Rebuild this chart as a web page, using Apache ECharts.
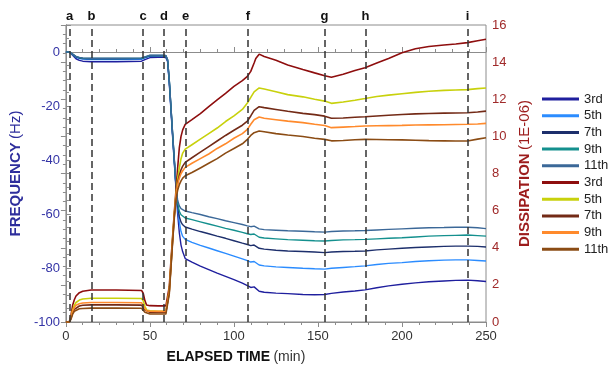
<!DOCTYPE html>
<html>
<head>
<meta charset="utf-8">
<script src="https://cdn.jsdelivr.net/npm/echarts@6/dist/echarts.min.js"></script>
<style>
  html, body { margin: 0; padding: 0; background: #fff; }
  #chart { width: 611px; height: 369px; }
</style>
</head>
<body>
<div id="chart"></div>
<script>
// QCM-D run: frequency shift and dissipation per overtone vs elapsed time
const timeMin = [0, 2, 3, 4, 5, 6, 8, 10, 15, 30,
  45, 46, 47, 48, 50, 55, 58, 59.5, 60.5, 61.5,
  62.5, 63.5, 64.5, 65.5, 66.5, 67.5, 68.5, 69.5, 71, 75,
  80, 85, 90, 95, 100, 105, 108, 110, 112, 113,
  115, 118, 125, 132, 141, 148, 154, 158, 165, 172,
  178, 185, 192, 200, 208, 216, 225, 232, 239, 245,
  250];

// Frequency shift (Hz)
const freq3rd = [0, 0, -0.4, -1.2, -1.9, -2.5, -3.1, -3.4, -3.6, -3.6,
  -3.4, -3.3, -2.8, -2.3, -2.1, -2.0, -2.0, -2.1, -3.5, -11.5,
  -21.5, -31.5, -41, -50.5, -60, -67, -71.5, -74, -76.5, -77.8,
  -79.3, -80.6, -81.9, -83.1, -84.3, -85.6, -86.5, -87.2, -87.0, -87.6,
  -88.6, -89.0, -89.3, -89.5, -89.8, -89.9, -89.8, -89.4, -88.9, -88.5,
  -88.1, -87.3, -86.6, -86.0, -85.5, -85.1, -84.8, -84.6, -84.5, -84.7,
  -85.0];
const freq5th = [0, 0, -0.3, -1.0, -1.5, -1.9, -2.4, -2.6, -2.8, -2.8,
  -2.7, -2.6, -2.2, -1.8, -1.6, -1.5, -1.5, -1.6, -3.2, -11,
  -21, -31, -40.5, -50, -58, -63, -66.5, -68.3, -69.4, -70.5,
  -71.6, -72.6, -73.6, -74.6, -75.6, -76.6, -77.3, -77.8, -77.6, -78.2,
  -78.9, -79.2, -79.6, -79.8, -80.1, -80.3, -80.4, -80.1, -79.8, -79.5,
  -79.2, -78.7, -78.3, -78.0, -77.6, -77.3, -77.1, -77.0, -77.0, -77.2,
  -77.4];
const freq7th = [0, 0, -0.3, -0.9, -1.4, -1.8, -2.2, -2.4, -2.5, -2.5,
  -2.4, -2.3, -2.0, -1.6, -1.4, -1.4, -1.4, -1.5, -3.0, -10.5,
  -20.5, -30.5, -40, -49.5, -57, -61, -63, -64, -64.8, -65.6,
  -66.5, -67.3, -68.2, -69.0, -69.9, -70.8, -71.3, -71.7, -71.5, -72.0,
  -72.7, -73.0, -73.4, -73.7, -73.9, -74.1, -74.3, -74.1, -73.9, -73.8,
  -73.7, -73.3, -73.0, -72.7, -72.4, -72.2, -72.0, -71.9, -71.9, -72.0,
  -72.2];
const freq9th = [0, 0, -0.3, -0.8, -1.3, -1.7, -2.1, -2.3, -2.4, -2.4,
  -2.3, -2.2, -1.9, -1.5, -1.3, -1.3, -1.3, -1.4, -2.9, -10.3,
  -20.3, -30.3, -39.8, -49.3, -56, -59, -60.3, -61, -61.5, -62.1,
  -62.9, -63.7, -64.5, -65.3, -66.0, -66.8, -67.3, -67.6, -67.4, -67.9,
  -68.6, -68.9, -69.2, -69.5, -69.7, -69.9, -70.0, -69.8, -69.6, -69.5,
  -69.4, -69.2, -69.0, -68.8, -68.5, -68.2, -68.0, -67.9, -67.8, -68.0,
  -68.2];
const freq11th = [0, 0, -0.3, -0.8, -1.2, -1.6, -2.0, -2.2, -2.3, -2.3,
  -2.2, -2.1, -1.8, -1.4, -1.2, -1.2, -1.2, -1.3, -2.8, -10.1,
  -20.1, -30.1, -39.6, -49, -55, -57, -58, -58.5, -58.9, -59.5,
  -60.2, -61.0, -61.7, -62.5, -63.2, -63.9, -64.4, -64.7, -64.5, -64.9,
  -65.5, -65.8, -66.0, -66.2, -66.4, -66.6, -66.7, -66.5, -66.3, -66.2,
  -66.1, -65.9, -65.7, -65.5, -65.3, -65.1, -65.0, -64.9, -64.9, -65.1,
  -65.4];

// Dissipation (1E-06)
const diss3rd = [0, 0, 0.35, 0.9, 1.2, 1.4, 1.58, 1.66, 1.72, 1.72,
  1.70, 1.55, 1.15, 0.92, 0.88, 0.87, 0.87, 0.87, 0.95, 1.9,
  3.3, 4.6, 5.9, 7.1, 8.3, 9.4, 10.0, 10.35, 10.65, 10.9,
  11.23, 11.6, 11.96, 12.32, 12.69, 13.0, 13.23, 13.5, 13.95, 14.2,
  14.43, 14.3, 14.1, 13.85, 13.6, 13.42, 13.27, 13.18, 13.35, 13.55,
  13.7, 13.95, 14.2, 14.5, 14.72, 14.84, 14.92, 14.98, 15.05, 15.15,
  15.23];
const diss5th = [0, 0, 0.25, 0.65, 0.9, 1.05, 1.18, 1.24, 1.28, 1.28,
  1.27, 1.15, 0.85, 0.65, 0.6, 0.58, 0.57, 0.57, 0.65, 1.7,
  3.1, 4.5, 5.8, 6.9, 7.7, 8.3, 8.8, 9.1, 9.31, 9.55,
  9.85, 10.15, 10.45, 10.8, 11.1, 11.45, 11.8, 12.1, 12.4, 12.5,
  12.61, 12.55, 12.4, 12.25, 12.13, 12.0, 11.9, 11.78, 11.85, 11.95,
  12.04, 12.15, 12.22, 12.3, 12.37, 12.43, 12.48, 12.5, 12.52, 12.57,
  12.61];
const diss7th = [0, 0, 0.2, 0.5, 0.68, 0.78, 0.86, 0.9, 0.92, 0.92,
  0.91, 0.82, 0.65, 0.55, 0.52, 0.52, 0.52, 0.52, 0.6, 1.6,
  3.0, 4.4, 5.7, 6.8, 7.5, 7.9, 8.2, 8.4, 8.6, 8.85,
  9.15, 9.45, 9.75, 10.05, 10.33, 10.6, 10.82, 11.1, 11.4, 11.5,
  11.6, 11.55, 11.45, 11.35, 11.24, 11.17, 11.09, 10.98, 10.99, 11.03,
  11.06, 11.1, 11.14, 11.18, 11.21, 11.23, 11.25, 11.26, 11.27, 11.31,
  11.36];
const diss9th = [0, 0, 0.22, 0.58, 0.78, 0.9, 0.98, 1.02, 1.05, 1.05,
  1.04, 0.94, 0.72, 0.6, 0.58, 0.57, 0.57, 0.57, 0.65, 1.65,
  3.05, 4.45, 5.75, 6.85, 7.4, 7.75, 8.0, 8.15, 8.33, 8.55,
  8.8, 9.05, 9.35, 9.6, 9.9, 10.15, 10.38, 10.65, 10.9, 10.98,
  11.04, 10.98, 10.9, 10.82, 10.74, 10.65, 10.59, 10.47, 10.5, 10.53,
  10.56, 10.57, 10.58, 10.59, 10.61, 10.62, 10.63, 10.64, 10.65, 10.67,
  10.7];
const diss11th = [0, 0, 0.15, 0.42, 0.58, 0.66, 0.71, 0.73, 0.75, 0.75,
  0.74, 0.66, 0.52, 0.45, 0.43, 0.43, 0.43, 0.43, 0.5, 1.5,
  2.9, 4.3, 5.6, 6.6, 7.1, 7.4, 7.6, 7.75, 7.88, 8.05,
  8.3, 8.55, 8.8, 9.1, 9.35, 9.6, 9.84, 10.05, 10.2, 10.25,
  10.29, 10.25, 10.15, 10.07, 9.99, 9.9, 9.84, 9.76, 9.78, 9.82,
  9.84, 9.83, 9.82, 9.81, 9.79, 9.77, 9.76, 9.75, 9.75, 9.85,
  9.93];

// Process steps marked by dashed lines
const stepTimes = [2.2, 15.2, 46, 58.4, 71.3, 108.3, 153.9, 178.3, 239];
const stepLabels = ['a', 'b', 'c', 'd', 'e', 'f', 'g', 'h', 'i'];

const overtones = ['3rd', '5th', '7th', '9th', '11th'];
const freqSets = [freq3rd, freq5th, freq7th, freq9th, freq11th];
const dissSets = [diss3rd, diss5th, diss7th, diss9th, diss11th];
const freqColors = ['#1f1f9e', '#2b8cff', '#1d2f6c', '#14908e', '#3b6898'];
const dissColors = ['#8e0e0e', '#c8d10c', '#732a16', '#ff8a2c', '#8b4c14'];

const FONT = '"Liberation Sans", Arial, sans-serif';
const pairs = vals => timeMin.map((t, i) => [t, vals[i]]);

const series = [];
overtones.forEach((ot, k) => {
  series.push({
    name: 'Frequency ' + ot,
    type: 'line',
    yAxisIndex: 0,
    showSymbol: false,
    data: pairs(freqSets[k]),
    lineStyle: { width: 1.4, color: freqColors[k] },
    itemStyle: { color: freqColors[k] },
    z: 2
  });
});
overtones.forEach((ot, k) => {
  series.push({
    name: 'Dissipation ' + ot,
    type: 'line',
    yAxisIndex: 1,
    showSymbol: false,
    data: pairs(dissSets[k]),
    lineStyle: { width: 1.6, color: dissColors[k] },
    itemStyle: { color: dissColors[k] },
    z: 3
  });
});
// dashed step markers with letters above the frame
series[0].markLine = {
  silent: true,
  symbol: ['none', 'none'],
  animation: false,
  lineStyle: { type: [7, 4], color: '#333', width: 1.5 },
  label: {
    show: true, position: 'end', distance: 2,
    formatter: '{b}', color: '#111', fontWeight: 'bold',
    fontSize: 13, fontFamily: FONT
  },
  data: stepTimes.map((t, i) => ({ xAxis: t, name: stepLabels[i] }))
};

const frameColor = '#8c8c8c';
const chart = echarts.init(document.getElementById('chart'));
chart.setOption({
  animation: false,
  backgroundColor: '#fff',
  textStyle: { fontFamily: FONT },
  grid: {
    left: 59, right: 125, top: 25, bottom: 45,
    show: true, borderColor: frameColor, borderWidth: 1
  },
  legend: {
    orient: 'vertical',
    left: 537, top: 87,
    icon: 'rect',
    itemWidth: 37, itemHeight: 3, itemGap: 2.7,
    textStyle: { fontSize: 13, lineHeight: 14, color: '#222', fontFamily: FONT },
    formatter: name => name.split(' ')[1],
    data: series.map(s => s.name)
  },
  xAxis: [{
    type: 'value', min: 0, max: 250, interval: 50,
    name: '{b|ELAPSED TIME} {n|(min)}',
    nameLocation: 'middle', nameGap: 28,
    nameTextStyle: {
      padding: [0, 80, 0, 0],
      rich: {
        b: { fontWeight: 'bold', fontSize: 14, color: '#111', fontFamily: FONT },
        n: { fontSize: 14, color: '#333', fontFamily: FONT }
      }
    },
    axisLine: { show: true, lineStyle: { color: frameColor } },
    axisTick: { show: true, inside: true, length: 5, lineStyle: { color: frameColor } },
    minorTick: { show: true, splitNumber: 5, length: 3, lineStyle: { color: frameColor } },
    axisLabel: { color: '#333', fontSize: 13, margin: 8, fontFamily: FONT },
    splitLine: { show: false }
  }, {
    type: 'value', min: 0, max: 250, interval: 50, position: 'top',
    axisLine: { show: true, lineStyle: { color: frameColor } },
    axisTick: { show: true, inside: true, length: 5, lineStyle: { color: frameColor } },
    minorTick: { show: true, splitNumber: 5, length: 3, lineStyle: { color: frameColor } },
    axisLabel: { show: false },
    splitLine: { show: false }
  }],
  yAxis: [{
    type: 'value', min: -100, max: 10, interval: 20, position: 'left',
    name: '{b|FREQUENCY} {n|(Hz)}',
    nameLocation: 'middle', nameGap: 31, nameRotate: 90,
    nameTextStyle: {
      rich: {
        b: { fontWeight: 'bold', fontSize: 15, color: '#2e2e9c', fontFamily: FONT },
        n: { fontSize: 15, color: '#2e2e9c', fontFamily: FONT }
      }
    },
    axisLine: { show: true, lineStyle: { color: frameColor } },
    axisTick: { show: true, inside: true, length: 5, lineStyle: { color: frameColor } },
    minorTick: { show: true, splitNumber: 4, length: 3, lineStyle: { color: frameColor } },
    axisLabel: {
      color: '#3434a6', fontSize: 13, margin: 6, fontFamily: FONT,
      formatter: v => (v > 0 ? '' : String(v))
    },
    splitLine: { show: false }
  }, {
    type: 'value', min: 0, max: 16, interval: 2, position: 'right',
    name: '{b|DISSIPATION} {n|(1E-06)}',
    nameLocation: 'middle', nameGap: 28, nameRotate: 90,
    nameTextStyle: {
      rich: {
        b: { fontWeight: 'bold', fontSize: 15, color: '#9c1c1c', fontFamily: FONT },
        n: { fontSize: 15, color: '#9c1c1c', fontFamily: FONT }
      }
    },
    axisLine: { show: true, lineStyle: { color: frameColor } },
    axisTick: { show: true, inside: true, length: 5, lineStyle: { color: frameColor } },
    minorTick: { show: true, splitNumber: 4, length: 3, lineStyle: { color: frameColor } },
    axisLabel: { color: '#a02a2a', fontSize: 13, margin: 6, fontFamily: FONT },
    splitLine: { show: false }
  }],
  series: series
});
</script>
</body>
</html>
